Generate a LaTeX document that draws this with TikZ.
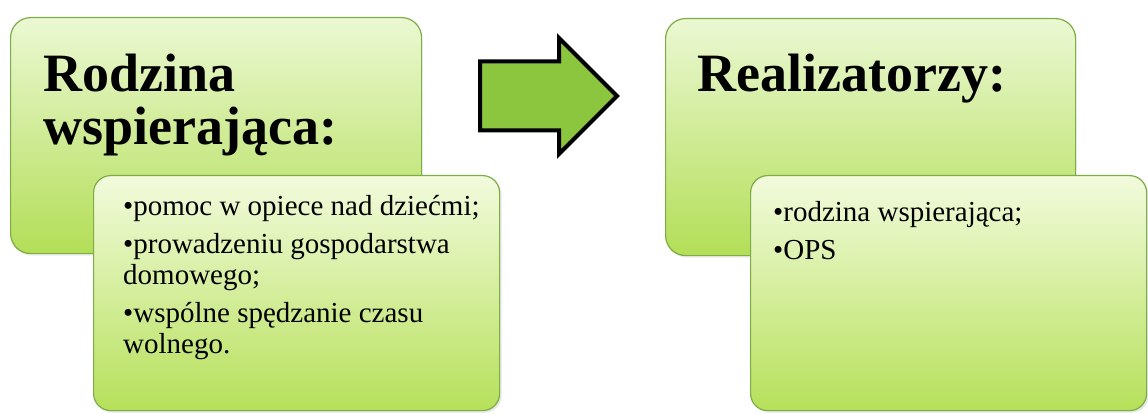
\documentclass[tikz,border=0pt]{standalone}
\usepackage{fontspec}
\setmainfont{Liberation Serif}
\usetikzlibrary{shapes.arrows, shadows, positioning}

\definecolor{boxtop}{HTML}{EBF8D3}
\definecolor{boxbot}{HTML}{B3DE57}
\definecolor{subtop}{HTML}{F2FBDD}
\definecolor{subbot}{HTML}{B6E05A}
\definecolor{boxline}{HTML}{7DAE45}
\definecolor{arrowfill}{HTML}{8CC53E}

\begin{document}
\begin{tikzpicture}[x=1pt, y=-1pt,
      bigbox/.style={
         rectangle,
         rounded corners=20pt,
         draw=boxline,
         line width=1.2pt,
         top color=boxtop,
         bottom color=boxbot,
         anchor=north west,
         inner sep=0pt,
         drop shadow={opacity=0.15, shadow xshift=1pt, shadow yshift=-2pt}},
      subbox/.style={
         rectangle,
         rounded corners=17pt,
         draw=boxline,
         line width=1.2pt,
         top color=subtop,
         bottom color=subbot,
         anchor=north west,
         inner sep=0pt,
         drop shadow={opacity=0.2, shadow xshift=2pt, shadow yshift=-2pt}},
      headtext/.style={
         anchor=base west,
         align=left,
         inner sep=0pt,
         font=\rmfamily\bfseries\fontsize{54}{53}\selectfont},
      itemtext/.style={
         anchor=base west,
         align=left,
         inner sep=0pt,
         font=\rmfamily\fontsize{29}{31}\selectfont},
      blockarrow/.style={
         single arrow,
         draw=black,
         line width=4pt,
         fill=arrowfill,
         single arrow head extend=23.5pt,
         single arrow tip angle=90,
         single arrow head indent=0pt,
         minimum height=137pt,
         inner xsep=0pt,
         inner ysep=32.5pt}
      ]
      \useasboundingbox (0,0) rectangle (1148,414);

      % left pair (base anchor of a multi-line node = its last line)
      \node[bigbox, minimum width=411pt, minimum height=236pt] (lbig) at (10,17) {};
      \node[headtext] (lhead) at (43,145) {Rodzina\\wspierająca:};
      \node[subbox, minimum width=406pt, minimum height=235pt] (lsub) at (93,175) {};
      \node[itemtext] (litems) at (123,353) {•pomoc w opiece nad dziećmi;\\[7pt]
         •prowadzeniu gospodarstwa\\domowego;\\[7pt]
         •wspólne spędzanie czasu\\wolnego.};

      % arrow between
      \node[blockarrow, anchor=west] (arr) at (478,96) {};

      % right pair
      \node[bigbox, minimum width=410pt, minimum height=237pt] (rbig) at (665,18) {};
      \node[headtext] (rhead) at (697,92) {Realizatorzy:};
      \node[subbox, minimum width=396pt, minimum height=235pt] (rsub) at (750,175) {};
      \node[itemtext] (ritems) at (773,259) {•rodzina wspierająca;\\[7pt]
         •OPS};
\end{tikzpicture}
\end{document}
